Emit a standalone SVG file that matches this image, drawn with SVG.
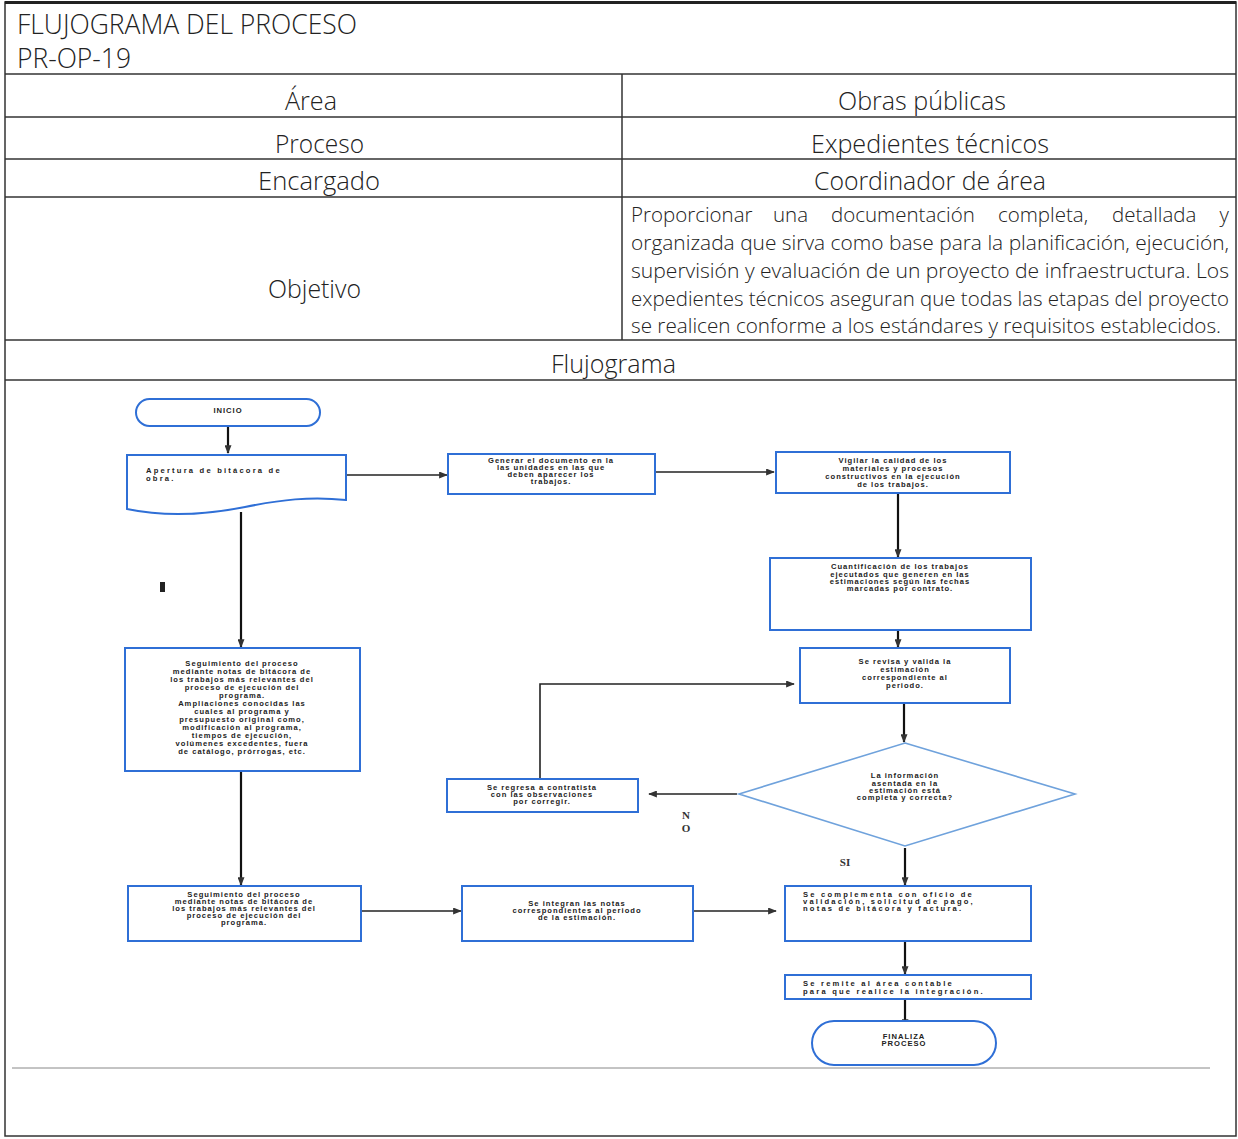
<svg xmlns="http://www.w3.org/2000/svg" width="1238" height="1139" viewBox="0 0 1238 1139">
<defs>
<marker id="arr" viewBox="0 0 10 8" refX="9" refY="4" markerWidth="9" markerHeight="7" markerUnits="userSpaceOnUse" orient="auto">
<path d="M0,0 L10,4 L0,8 Z" fill="#333"/>
</marker>
</defs>
<style>
.hdr{font-family:"Open Sans","Liberation Sans",sans-serif;font-weight:300;fill:#222;}
.tl{stroke:#333;stroke-width:1.5;fill:none;}
.nd{fill:#fff;stroke:#2f6fd6;stroke-width:2;}
.nt{font-family:"Liberation Sans",sans-serif;font-weight:bold;font-size:7.6px;letter-spacing:1px;fill:#222;text-anchor:middle;}
.ns{text-anchor:start;}
.nw{letter-spacing:2.2px;}
.cn{stroke:#222;stroke-width:1.6;fill:none;}
.cnb{stroke:#111;stroke-width:2.2;fill:none;}
.lbl{font-family:"Liberation Serif",serif;font-weight:bold;font-size:11px;fill:#333;text-anchor:middle;}
</style>
<rect width="1238" height="1139" fill="#fff"/>
<g id="table">
<rect x="5" y="2" width="1231" height="1134" class="tl"/>
<line x1="5" y1="2.5" x2="1236" y2="2.5" stroke="#222" stroke-width="3"/>
<line x1="5" y1="74" x2="1236" y2="74" class="tl"/>
<line x1="5" y1="117" x2="1236" y2="117" class="tl"/>
<line x1="5" y1="159" x2="1236" y2="159" class="tl"/>
<line x1="5" y1="197" x2="1236" y2="197" class="tl"/>
<line x1="5" y1="340" x2="1236" y2="340" class="tl"/>
<line x1="5" y1="380" x2="1236" y2="380" class="tl"/>
<line x1="622" y1="74" x2="622" y2="340" class="tl"/>
<line x1="12" y1="1068" x2="1210" y2="1068" stroke="#888" stroke-width="1"/>
<text class="hdr" x="17" y="34" font-size="27" textLength="340" lengthAdjust="spacingAndGlyphs">FLUJOGRAMA DEL PROCESO</text>
<text class="hdr" x="17" y="68" font-size="27" textLength="114" lengthAdjust="spacingAndGlyphs">PR-OP-19</text>
<text class="hdr" x="285" y="110" font-size="26" textLength="52" lengthAdjust="spacingAndGlyphs">Área</text>
<text class="hdr" x="838" y="110" font-size="26" textLength="168" lengthAdjust="spacingAndGlyphs">Obras públicas</text>
<text class="hdr" x="275" y="153" font-size="26" textLength="89" lengthAdjust="spacingAndGlyphs">Proceso</text>
<text class="hdr" x="811" y="153" font-size="26" textLength="238" lengthAdjust="spacingAndGlyphs">Expedientes técnicos</text>
<text class="hdr" x="258" y="190" font-size="26" textLength="122" lengthAdjust="spacingAndGlyphs">Encargado</text>
<text class="hdr" x="814" y="190" font-size="26" textLength="232" lengthAdjust="spacingAndGlyphs">Coordinador de área</text>
<text class="hdr" x="268" y="298" font-size="26" textLength="93" lengthAdjust="spacingAndGlyphs">Objetivo</text>
<text class="hdr" x="551" y="373" font-size="26" textLength="125" lengthAdjust="spacingAndGlyphs">Flujograma</text>
<g class="hdr" font-size="20.5">
<text x="631" y="222">Proporcionar</text>
<text x="773" y="222">una</text>
<text x="831" y="222">documentación</text>
<text x="998" y="222">completa,</text>
<text x="1112" y="222">detallada</text>
<text x="1229" y="222" text-anchor="end">y</text>
<text x="631" y="250" textLength="598" lengthAdjust="spacingAndGlyphs">organizada que sirva como base para la planificación, ejecución,</text>
<text x="631" y="278" textLength="598" lengthAdjust="spacingAndGlyphs">supervisión y evaluación de un proyecto de infraestructura. Los</text>
<text x="631" y="306" textLength="598" lengthAdjust="spacingAndGlyphs">expedientes técnicos aseguran que todas las etapas del proyecto</text>
<text x="631" y="333" textLength="590" lengthAdjust="spacingAndGlyphs">se realicen conforme a los estándares y requisitos establecidos.</text>
</g>
</g>
<g id="connectors">
<line x1="228" y1="426" x2="228" y2="453" class="cnb" marker-end="url(#arr)"/>
<line x1="346" y1="475" x2="447" y2="475" class="cn" marker-end="url(#arr)"/>
<line x1="655" y1="472" x2="774" y2="472" class="cn" marker-end="url(#arr)"/>
<line x1="898" y1="493" x2="898" y2="557" class="cnb" marker-end="url(#arr)"/>
<line x1="898" y1="630" x2="898" y2="647" class="cnb" marker-end="url(#arr)"/>
<line x1="904" y1="703" x2="904" y2="742" class="cnb" marker-end="url(#arr)"/>
<line x1="737" y1="794" x2="649" y2="794" class="cn" marker-end="url(#arr)"/>
<polyline points="540,779 540,684 794,684" class="cn" marker-end="url(#arr)"/>
<line x1="905" y1="848" x2="905" y2="885" class="cnb" marker-end="url(#arr)"/>
<line x1="905" y1="941" x2="905" y2="974" class="cnb" marker-end="url(#arr)"/>
<line x1="905" y1="999" x2="905" y2="1027" class="cnb" marker-end="url(#arr)"/>
<line x1="241" y1="512" x2="241" y2="647" class="cnb" marker-end="url(#arr)"/>
<line x1="241" y1="771" x2="241" y2="885" class="cnb" marker-end="url(#arr)"/>
<line x1="361" y1="911" x2="461" y2="911" class="cn" marker-end="url(#arr)"/>
<line x1="693" y1="911" x2="776" y2="911" class="cn" marker-end="url(#arr)"/>
<text class="lbl" x="686" y="819">N</text>
<text class="lbl" x="686" y="832">O</text>
<text class="lbl" x="845" y="866">SI</text>
<rect x="160" y="582" width="5" height="10" fill="#222"/>
</g>
<g id="n-inicio">
<rect x="136" y="399" width="184" height="27" rx="13.5" class="nd"/>
<text class="nt" x="228" y="413">INICIO</text>
</g>
<g id="n-apertura">
<path d="M127,455 H346 V500 C310,496 280,500 245,507 C205,515 165,517 127,509 Z" class="nd"/>
<text class="nt ns nw" x="146" y="473">Apertura de bitácora de</text>
<text class="nt ns nw" x="146" y="481">obra.</text>
</g>
<g id="n-generar">
<rect x="448" y="454" width="207" height="40" class="nd"/>
<text class="nt" x="551" y="463">Generar el documento en la</text>
<text class="nt" x="551" y="470">las unidades en las que</text>
<text class="nt" x="551" y="477">deben aparecer los</text>
<text class="nt" x="551" y="484">trabajos.</text>
</g>
<g id="n-vigilar">
<rect x="776" y="452" width="234" height="41" class="nd"/>
<text class="nt" x="893" y="463">Vigilar la calidad de los</text>
<text class="nt" x="893" y="471">materiales y procesos</text>
<text class="nt" x="893" y="479">constructivos en la ejecución</text>
<text class="nt" x="893" y="487">de los trabajos.</text>
</g>
<g id="n-cuantificacion">
<rect x="770" y="558" width="261" height="72" class="nd"/>
<text class="nt" x="900" y="569">Cuantificación de los trabajos</text>
<text class="nt" x="900" y="577">ejecutados que generen en las</text>
<text class="nt" x="900" y="584">estimaciones según las fechas</text>
<text class="nt" x="900" y="591">marcadas por contrato.</text>
</g>
<g id="n-revisa">
<rect x="800" y="648" width="210" height="55" class="nd"/>
<text class="nt" x="905" y="664">Se revisa y valida la</text>
<text class="nt" x="905" y="672">estimación</text>
<text class="nt" x="905" y="680">correspondiente al</text>
<text class="nt" x="905" y="688">periodo.</text>
</g>
<g id="n-decision">
<polygon points="905,743 1075,794 905,846 739,794" class="nd" style="stroke:#6fa2dc;stroke-width:1.6"/>
<text class="nt" x="905" y="778">La información</text>
<text class="nt" x="905" y="786">asentada en la</text>
<text class="nt" x="905" y="793">estimación está</text>
<text class="nt" x="905" y="800">completa y correcta?</text>
</g>
<g id="n-regresa">
<rect x="447" y="779" width="191" height="33" class="nd"/>
<text class="nt" x="542" y="790">Se regresa a contratista</text>
<text class="nt" x="542" y="797">con las observaciones</text>
<text class="nt" x="542" y="804">por corregir.</text>
</g>
<g id="n-seguimiento-1">
<rect x="125" y="648" width="235" height="123" class="nd"/>
<text class="nt" x="242" y="666">Seguimiento del proceso</text>
<text class="nt" x="242" y="674">mediante notas de bitácora de</text>
<text class="nt" x="242" y="682">los trabajos más relevantes del</text>
<text class="nt" x="242" y="690">proceso de ejecución del</text>
<text class="nt" x="242" y="698">programa.</text>
<text class="nt" x="242" y="706">Ampliaciones conocidas las</text>
<text class="nt" x="242" y="714">cuales al programa y</text>
<text class="nt" x="242" y="722">presupuesto original como,</text>
<text class="nt" x="242" y="730">modificación al programa,</text>
<text class="nt" x="242" y="738">tiempos de ejecución,</text>
<text class="nt" x="242" y="746">volúmenes excedentes, fuera</text>
<text class="nt" x="242" y="754">de catálogo, prórrogas, etc.</text>
</g>
<g id="n-seguimiento-2">
<rect x="128" y="886" width="233" height="55" class="nd"/>
<text class="nt" x="244" y="897">Seguimiento del proceso</text>
<text class="nt" x="244" y="904">mediante notas de bitácora de</text>
<text class="nt" x="244" y="911">los trabajos más relevantes del</text>
<text class="nt" x="244" y="918">proceso de ejecución del</text>
<text class="nt" x="244" y="925">programa.</text>
</g>
<g id="n-integran">
<rect x="462" y="886" width="231" height="55" class="nd"/>
<text class="nt" x="577" y="906">Se integran las notas</text>
<text class="nt" x="577" y="913">correspondientes al periodo</text>
<text class="nt" x="577" y="920">de la estimación.</text>
</g>
<g id="n-complementa">
<rect x="785" y="886" width="246" height="55" class="nd"/>
<text class="nt ns nw" x="803" y="897">Se complementa con oficio de</text>
<text class="nt ns nw" x="803" y="904">validación, solicitud de pago,</text>
<text class="nt ns nw" x="803" y="911">notas de bitácora y factura.</text>
</g>
<g id="n-remite">
<rect x="785" y="975" width="246" height="24" class="nd"/>
<text class="nt ns nw" x="803" y="986">Se remite al área contable</text>
<text class="nt ns nw" x="803" y="994">para que realice la integración.</text>
</g>
<g id="n-fin">
<rect x="812" y="1021" width="184" height="44" rx="22" class="nd"/>
<text class="nt" x="904" y="1039">FINALIZA</text>
<text class="nt" x="904" y="1046">PROCESO</text>
</g>
</svg>
